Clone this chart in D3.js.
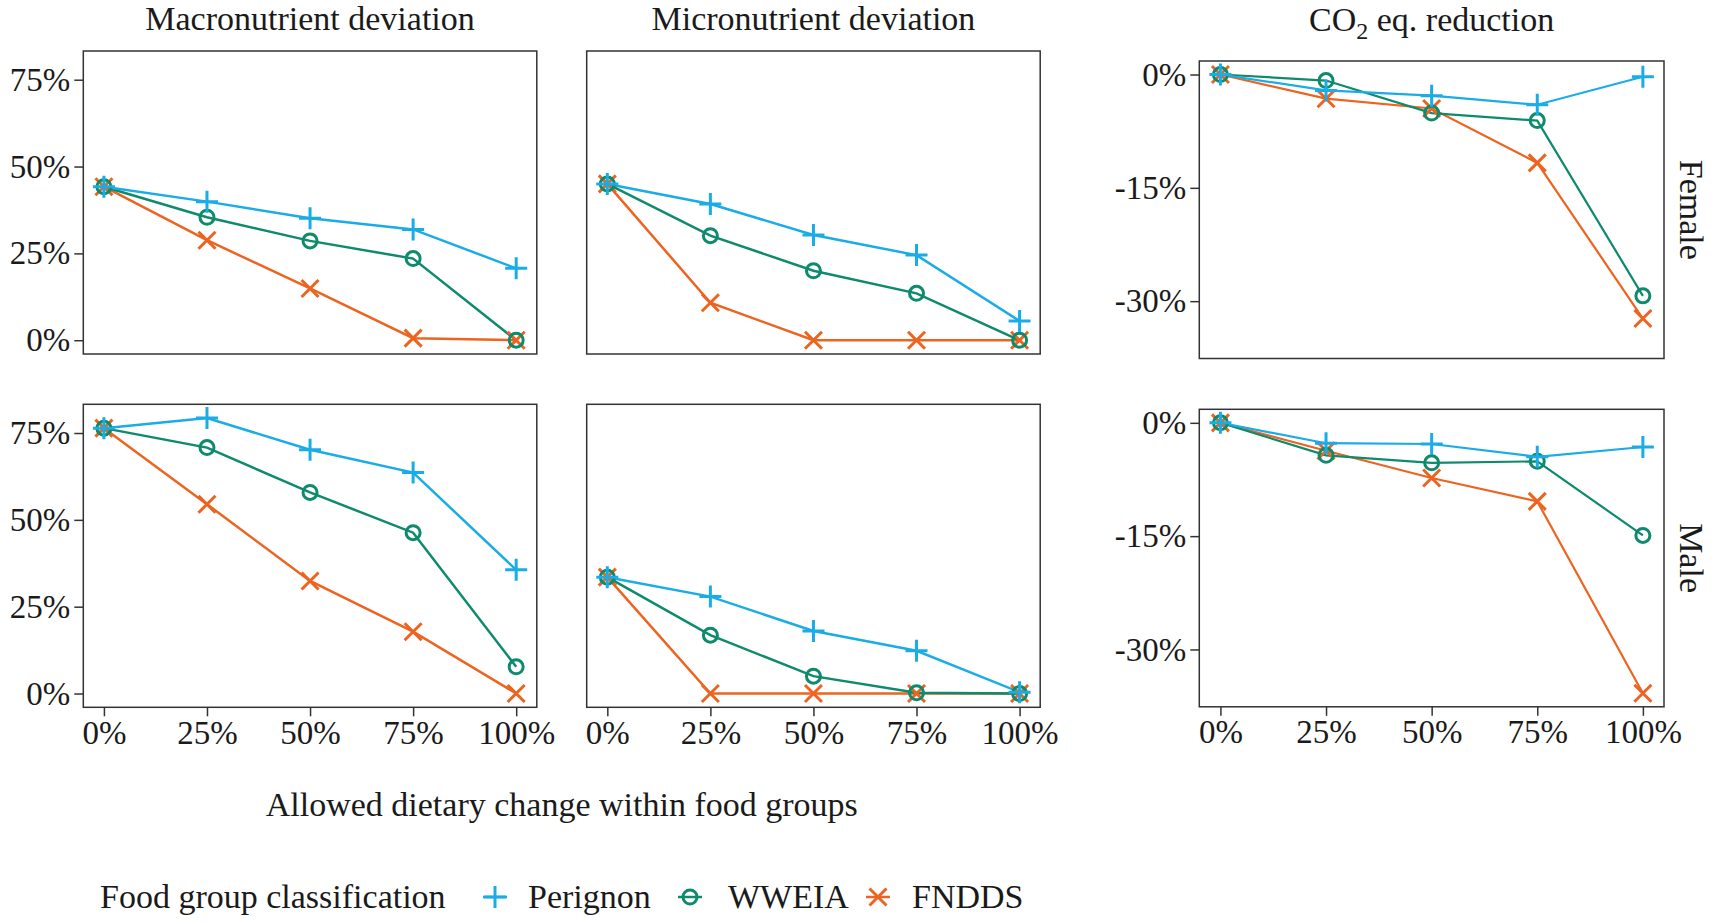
<!DOCTYPE html>
<html>
<head>
<meta charset="utf-8">
<script src="https://cdn.jsdelivr.net/npm/d3@7"></script>
<style>
  body { margin: 0; background: #fff; }
  svg { display: block; }
  text { font-family: "Liberation Serif", "Times New Roman", serif; fill: #1a1a1a; }
</style>
</head>
<body>
<svg id="chart" width="1713" height="923"></svg>
<script>
// allowed dietary change levels (x)
const levels = [0, 25, 50, 75, 100];
const seriesNames = ['Perignon', 'WWEIA', 'FNDDS'];
const colors = ['#1aace6', '#0e8a6c', '#ec6420'];

// values per series: Perignon, WWEIA, FNDDS
const macroFemale = [
  [44.2, 39.9, 35.1, 31.9, 20.7],
  [44.2, 35.4, 28.6, 23.5, 0.0],
  [44.2, 28.8, 14.9, 0.6, 0.0]
];
const microFemale = [
  [45.0, 39.2, 30.3, 24.5, 5.5],
  [45.0, 30.1, 20.0, 13.5, 0.0],
  [45.0, 10.8, 0.0, 0.0, 0.0]
];
const macroMale = [
  [76.4, 79.3, 70.2, 63.6, 35.6],
  [76.4, 70.8, 57.9, 46.3, 7.7],
  [76.4, 54.5, 32.4, 17.8, 0.0]
];
const microMale = [
  [33.5, 27.9, 18.0, 12.3, 0.4],
  [33.5, 16.8, 5.0, 0.2, 0.0],
  [33.5, 0.0, 0.0, 0.0, 0.0]
];
const co2Female = [
  [0, -2.1, -2.8, -4.0, -0.3],
  [0, -0.8, -5.1, -6.1, -29.3],
  [0, -3.2, -4.5, -11.7, -32.3]
];
const co2Male = [
  [0, -2.7, -2.8, -4.5, -3.2],
  [0, -4.3, -5.3, -5.1, -14.9],
  [0, -3.7, -7.3, -10.4, -35.8]
];

const xTicks = [0, 25, 50, 75, 100];
const nutrientTicks = [0, 25, 50, 75];
const co2Ticks = [0, -15, -30];
const columnTitles = ['Macronutrient deviation', 'Micronutrient deviation'];
const rowTitles = ['Female', 'Male'];

const svg = d3.select('#chart');
const pct = d => `${d}%`;

// expanded domain like ggplot (5% each side)
function expand(values) {
  const [lo, hi] = d3.extent(values);
  const pad = (hi - lo) * 0.05;
  return [lo - pad, hi + pad];
}

const nutrientDomain = expand([macroFemale, microFemale, macroMale, microMale].flat(2));
const co2Domain = expand([co2Female, co2Male].flat(2));

const panels = [
  {x0: 83.3, y0: 51, w: 453.5, h: 303, data: macroFemale, domain: nutrientDomain, yTicks: nutrientTicks, showY: true, showX: false},
  {x0: 586.7, y0: 51, w: 453.5, h: 303, data: microFemale, domain: nutrientDomain, yTicks: nutrientTicks, showY: false, showX: false},
  {x0: 83.3, y0: 404.3, w: 453.5, h: 303, data: macroMale, domain: nutrientDomain, yTicks: nutrientTicks, showY: true, showX: true},
  {x0: 586.7, y0: 404.3, w: 453.5, h: 303, data: microMale, domain: nutrientDomain, yTicks: nutrientTicks, showY: false, showX: true},
  {x0: 1199.3, y0: 61, w: 464.7, h: 297.5, data: co2Female, domain: co2Domain, yTicks: co2Ticks, showY: true, showX: false, lw: 2.2},
  {x0: 1199.3, y0: 409.3, w: 464.7, h: 297.5, data: co2Male, domain: co2Domain, yTicks: co2Ticks, showY: true, showX: true, lw: 2.2}
];

const shapes = [
  'M-11,0H11M0,-11V11',
  null,
  'M-8.5,-8.5L8.5,8.5M-8.5,8.5L8.5,-8.5'
];

function drawMarker(g, i, color) {
  if (i === 1) {
    g.append('circle').attr('r', 7).attr('fill', 'none')
      .attr('stroke', color).attr('stroke-width', 3);
  } else {
    g.append('path').attr('d', shapes[i]).attr('fill', 'none')
      .attr('stroke', color).attr('stroke-width', 3);
  }
}

panels.forEach(p => {
  const x = d3.scaleLinear().domain([-5, 105]).range([p.x0, p.x0 + p.w]);
  const y = d3.scaleLinear().domain(p.domain).range([p.y0 + p.h, p.y0]);
  const g = svg.append('g');

  g.append('rect')
    .attr('x', p.x0).attr('y', p.y0).attr('width', p.w).attr('height', p.h)
    .attr('fill', 'none').attr('stroke', '#333').attr('stroke-width', 1.5);

  const line = d3.line().x((d, i) => x(levels[i])).y(d => y(d));

  // draw FNDDS first so Perignon ends up on top
  [2, 1, 0].forEach(si => {
    g.append('path')
      .datum(p.data[si])
      .attr('d', line)
      .attr('fill', 'none')
      .attr('stroke', colors[si])
      .attr('stroke-width', p.lw || 2.5);
  });
  [2, 1, 0].forEach(si => {
    g.selectAll(null)
      .data(p.data[si])
      .join('g')
        .attr('transform', (d, i) => `translate(${x(levels[i])},${y(d)})`)
        .each(function() { drawMarker(d3.select(this), si, colors[si]); });
  });

  if (p.showY) {
    g.append('g')
      .attr('transform', `translate(${p.x0},0)`)
      .call(d3.axisLeft(y).tickValues(p.yTicks).tickFormat(pct).tickSize(9).tickPadding(4))
      .call(a => a.select('.domain').remove())
      .call(a => a.selectAll('line').attr('stroke', '#333').attr('stroke-width', 1.5))
      .call(a => a.selectAll('text').attr('font-size', 33).attr('font-family', 'Liberation Serif').attr('fill', '#1a1a1a'));
  }
  if (p.showX) {
    g.append('g')
      .attr('transform', `translate(0,${p.y0 + p.h})`)
      .call(d3.axisBottom(x).tickValues(xTicks).tickFormat(pct).tickSize(9).tickPadding(4))
      .call(a => a.select('.domain').remove())
      .call(a => a.selectAll('line').attr('stroke', '#333').attr('stroke-width', 1.5))
      .call(a => a.selectAll('text').attr('font-size', 33).attr('font-family', 'Liberation Serif').attr('fill', '#1a1a1a'));
  }
});

// column titles
columnTitles.forEach((t, i) => {
  const p = panels[i];
  svg.append('text')
    .attr('x', p.x0 + p.w / 2).attr('y', 30)
    .attr('text-anchor', 'middle').attr('font-size', 34)
    .text(t);
});
const co2Title = svg.append('text')
  .attr('x', panels[4].x0 + panels[4].w / 2).attr('y', 31)
  .attr('text-anchor', 'middle').attr('font-size', 34);
co2Title.append('tspan').text('CO');
co2Title.append('tspan').attr('font-size', 24).attr('dy', 8).text('2');
co2Title.append('tspan').attr('dy', -8).text(' eq. reduction');

// row strips on the right
rowTitles.forEach((t, i) => {
  const p = panels[4 + i];
  const cy = p.y0 + p.h / 2;
  svg.append('text')
    .attr('transform', `translate(1680,${cy}) rotate(90)`)
    .attr('text-anchor', 'middle').attr('font-size', 34)
    .text(t);
});

// x axis title
svg.append('text')
  .attr('x', (panels[0].x0 + panels[1].x0 + panels[1].w) / 2).attr('y', 816)
  .attr('text-anchor', 'middle').attr('font-size', 34)
  .text('Allowed dietary change within food groups');

// legend
const legend = svg.append('g');
legend.append('text').attr('x', 100).attr('y', 908).attr('font-size', 34)
  .text('Food group classification');
const keyX = [495, 690, 878];
const labelX = [528, 728, 912];
seriesNames.forEach((name, i) => {
  const k = legend.append('g').attr('transform', `translate(${keyX[i]},897)`);
  k.append('path').attr('d', 'M-12,0H12').attr('stroke', colors[i]).attr('stroke-width', 2.5);
  drawMarker(k, i, colors[i]);
  legend.append('text').attr('x', labelX[i]).attr('y', 908).attr('font-size', 34).text(name);
});
</script>
</body>
</html>
